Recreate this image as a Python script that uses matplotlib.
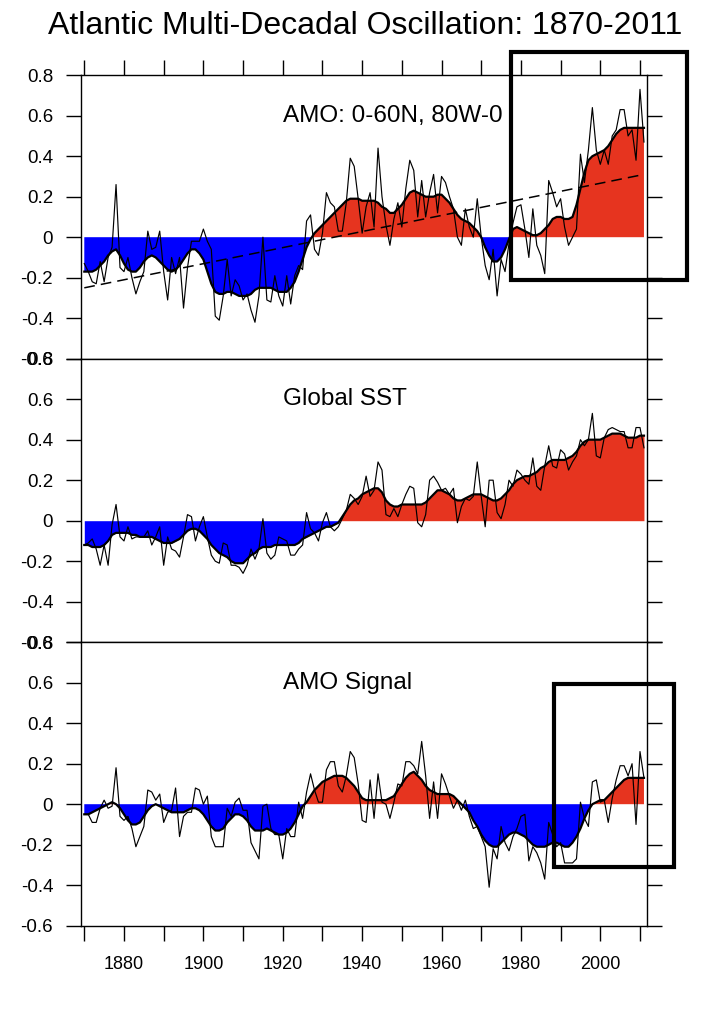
import numpy as np
import matplotlib
matplotlib.use('Agg')
import matplotlib.pyplot as plt
from matplotlib.patches import Rectangle

# ---- data (annual 1870-2011) ----
years = np.arange(1870, 2012)

amo_raw = [-0.13, -0.17, -0.22, -0.23, -0.12, -0.22, -0.10, -0.05, 0.26, -0.15,
           -0.17, -0.10, -0.20, -0.28, -0.22, -0.17, 0.03, -0.06, -0.05, 0.03,
           -0.17, -0.31, -0.10, -0.18, -0.10, -0.35, -0.15, -0.02, -0.02, -0.02,
           0.04, -0.02, -0.06, -0.39, -0.41, -0.29, -0.11, -0.29, -0.21, -0.24,
           -0.31, -0.28, -0.36, -0.42, -0.29, 0.00, -0.31, -0.32, -0.19, -0.29,
           -0.34, -0.19, -0.33, -0.19, -0.14, -0.16, 0.08, 0.11, -0.06, -0.09,
           0.02, 0.22, 0.17, 0.15, 0.03, 0.03, 0.17, 0.39, 0.35, 0.19,
           0.02, 0.15, 0.22, 0.05, 0.44, 0.20, 0.06, -0.04, 0.09, 0.17,
           0.05, 0.24, 0.38, 0.33, 0.10, 0.28, 0.10, 0.22, 0.31, 0.12,
           0.30, 0.27, 0.20, 0.14, 0.00, -0.04, 0.14, 0.05, 0.00, 0.19,
           0.00, -0.14, -0.21, -0.06, -0.29, -0.11, -0.17, -0.03, 0.07, 0.15,
           0.16, 0.04, -0.10, 0.14, -0.04, -0.09, -0.18, 0.28, 0.22, 0.15,
           0.19, 0.05, -0.04, 0.00, 0.04, 0.41, 0.27, 0.43, 0.64, 0.43,
           0.36, 0.43, 0.36, 0.50, 0.53, 0.63, 0.63, 0.50, 0.53, 0.38,
           0.73, 0.47]

amo_smooth = [-0.17, -0.17, -0.17, -0.16, -0.14, -0.12, -0.09, -0.07, -0.06, -0.09,
              -0.13, -0.16, -0.17, -0.17, -0.15, -0.12, -0.10, -0.09, -0.10, -0.12,
              -0.14, -0.16, -0.17, -0.16, -0.14, -0.11, -0.08, -0.06, -0.06, -0.08,
              -0.11, -0.17, -0.23, -0.27, -0.28, -0.28, -0.27, -0.27, -0.28, -0.29,
              -0.29, -0.29, -0.28, -0.26, -0.25, -0.25, -0.25, -0.25, -0.26, -0.27,
              -0.27, -0.27, -0.25, -0.22, -0.17, -0.11, -0.05, -0.01, 0.02, 0.04,
              0.06, 0.08, 0.10, 0.12, 0.14, 0.16, 0.18, 0.19, 0.19, 0.19,
              0.18, 0.18, 0.18, 0.18, 0.17, 0.15, 0.14, 0.12, 0.12, 0.14,
              0.16, 0.19, 0.22, 0.23, 0.22, 0.21, 0.20, 0.20, 0.20, 0.21,
              0.21, 0.19, 0.17, 0.14, 0.11, 0.09, 0.08, 0.07, 0.05, 0.03,
              0.00, -0.05, -0.09, -0.12, -0.12, -0.10, -0.06, -0.01, 0.04, 0.05,
              0.04, 0.03, 0.02, 0.01, 0.01, 0.02, 0.04, 0.06, 0.09, 0.10,
              0.10, 0.09, 0.09, 0.10, 0.16, 0.24, 0.32, 0.38, 0.40, 0.41,
              0.42, 0.43, 0.45, 0.48, 0.51, 0.53, 0.54, 0.54, 0.54, 0.54,
              0.54, 0.54]

# end points of the dashed linear trend (top panel)
trend_years = [1870, 2011]
trend_vals = [-0.25, 0.31]

sst_raw = [-0.12, -0.11, -0.09, -0.14, -0.22, -0.12, -0.22, -0.02, 0.08, -0.08,
           -0.10, -0.03, -0.09, -0.08, -0.08, -0.08, -0.05, -0.12, -0.08, -0.03,
           -0.22, -0.08, -0.14, -0.15, -0.18, -0.08, 0.03, 0.02, -0.10, -0.03,
           0.02, -0.08, -0.17, -0.20, -0.21, -0.11, -0.12, -0.22, -0.22, -0.23,
           -0.26, -0.22, -0.14, -0.19, -0.14, 0.01, -0.16, -0.19, -0.17, -0.08,
           -0.09, -0.10, -0.17, -0.17, -0.14, -0.12, 0.04, -0.04, -0.06, -0.10,
           -0.01, 0.04, -0.03, -0.05, -0.03, 0.01, 0.05, 0.13, 0.11, 0.08,
           0.12, 0.22, 0.12, 0.15, 0.29, 0.25, 0.03, 0.02, 0.06, 0.02,
           0.08, 0.13, 0.17, 0.16, -0.01, -0.03, 0.03, 0.20, 0.22, 0.19,
           0.15, 0.16, 0.13, 0.16, -0.01, 0.07, 0.11, 0.10, 0.12, 0.29,
           0.12, -0.03, 0.20, 0.20, 0.04, 0.01, 0.08, 0.20, 0.17, 0.25,
           0.23, 0.20, 0.18, 0.31, 0.17, 0.15, 0.27, 0.37, 0.27, 0.26,
           0.35, 0.33, 0.25, 0.29, 0.32, 0.40, 0.37, 0.40, 0.53, 0.32,
           0.31, 0.41, 0.45, 0.46, 0.45, 0.44, 0.44, 0.36, 0.36, 0.46,
           0.46, 0.36]

sst_smooth = [-0.12, -0.12, -0.13, -0.13, -0.13, -0.12, -0.10, -0.07, -0.06, -0.06,
              -0.06, -0.06, -0.07, -0.07, -0.08, -0.08, -0.08, -0.08, -0.09, -0.10,
              -0.11, -0.11, -0.11, -0.10, -0.09, -0.07, -0.05, -0.04, -0.04, -0.05,
              -0.07, -0.09, -0.12, -0.14, -0.16, -0.17, -0.18, -0.20, -0.21, -0.21,
              -0.21, -0.19, -0.17, -0.16, -0.14, -0.13, -0.13, -0.13, -0.12, -0.12,
              -0.12, -0.12, -0.12, -0.12, -0.11, -0.09, -0.08, -0.07, -0.06, -0.05,
              -0.04, -0.03, -0.03, -0.02, -0.01, 0.02, 0.05, 0.08, 0.10, 0.11,
              0.13, 0.14, 0.15, 0.16, 0.16, 0.14, 0.10, 0.08, 0.07, 0.07,
              0.08, 0.08, 0.08, 0.08, 0.08, 0.08, 0.09, 0.11, 0.13, 0.15,
              0.15, 0.14, 0.13, 0.11, 0.10, 0.10, 0.11, 0.12, 0.13, 0.13,
              0.13, 0.12, 0.11, 0.10, 0.10, 0.11, 0.13, 0.15, 0.18, 0.20,
              0.21, 0.22, 0.22, 0.23, 0.24, 0.26, 0.27, 0.29, 0.30, 0.30,
              0.30, 0.30, 0.31, 0.32, 0.34, 0.37, 0.39, 0.40, 0.40, 0.40,
              0.40, 0.41, 0.42, 0.43, 0.43, 0.43, 0.42, 0.41, 0.41, 0.41,
              0.42, 0.42]

sig_raw = [-0.05, -0.05, -0.09, -0.09, -0.02, 0.02, -0.02, -0.01, 0.18, -0.06,
           -0.08, -0.06, -0.12, -0.21, -0.16, -0.11, 0.07, 0.06, 0.02, 0.05,
           -0.09, -0.04, -0.03, 0.08, -0.16, -0.06, -0.04, -0.04, 0.08, 0.07,
           0.00, 0.04, -0.16, -0.21, -0.21, -0.21, -0.02, -0.06, 0.01, 0.03,
           -0.03, -0.03, -0.19, -0.23, -0.27, -0.01, 0.00, -0.12, -0.15, -0.15,
           -0.27, -0.12, -0.16, -0.16, 0.01, -0.07, 0.06, 0.15, 0.07, 0.01,
           0.01, 0.17, 0.21, 0.21, 0.09, 0.06, 0.14, 0.26, 0.23, 0.10,
           -0.08, -0.09, 0.12, -0.07, 0.15, 0.01, 0.00, -0.07, 0.01, 0.10,
           0.09, 0.21, 0.21, 0.19, 0.15, 0.31, 0.14, -0.07, 0.11, -0.07,
           0.15, 0.10, 0.04, -0.02, 0.02, -0.03, 0.02, -0.06, -0.12, -0.11,
           -0.16, -0.21, -0.41, -0.22, -0.27, -0.11, -0.19, -0.23, -0.16, -0.12,
           -0.06, -0.05, -0.28, -0.21, -0.24, -0.29, -0.37, -0.09, -0.15, -0.21,
           -0.19, -0.29, -0.29, -0.29, -0.27, 0.01, -0.07, -0.11, 0.11, 0.12,
           0.01, 0.02, -0.09, 0.03, 0.12, 0.19, 0.19, 0.14, 0.20, -0.10,
           0.26, 0.13]

sig_smooth = [-0.05, -0.05, -0.04, -0.03, -0.02, -0.01, 0.00, 0.01, 0.00, -0.02,
              -0.05, -0.08, -0.10, -0.10, -0.09, -0.06, -0.03, -0.01, 0.00, -0.01,
              -0.02, -0.03, -0.04, -0.04, -0.04, -0.04, -0.03, -0.02, -0.02, -0.03,
              -0.05, -0.08, -0.11, -0.13, -0.13, -0.12, -0.09, -0.07, -0.05, -0.05,
              -0.06, -0.08, -0.11, -0.13, -0.13, -0.13, -0.12, -0.13, -0.14, -0.15,
              -0.15, -0.14, -0.12, -0.09, -0.05, -0.01, 0.01, 0.04, 0.07, 0.09,
              0.11, 0.12, 0.13, 0.14, 0.14, 0.14, 0.13, 0.11, 0.09, 0.06,
              0.03, 0.02, 0.02, 0.02, 0.02, 0.02, 0.02, 0.03, 0.04, 0.07,
              0.10, 0.13, 0.15, 0.16, 0.14, 0.12, 0.09, 0.07, 0.06, 0.05,
              0.05, 0.05, 0.05, 0.04, 0.02, 0.00, -0.02, -0.04, -0.08, -0.11,
              -0.15, -0.18, -0.20, -0.21, -0.21, -0.19, -0.17, -0.15, -0.14, -0.14,
              -0.15, -0.16, -0.18, -0.20, -0.21, -0.21, -0.21, -0.20, -0.19, -0.19,
              -0.20, -0.21, -0.21, -0.19, -0.16, -0.12, -0.07, -0.03, 0.00, 0.01,
              0.02, 0.02, 0.04, 0.06, 0.08, 0.10, 0.12, 0.13, 0.13, 0.13,
              0.13, 0.13]

panel_titles = ['AMO: 0-60N, 80W-0', 'Global SST', 'AMO Signal']
yticks = [-0.6, -0.4, -0.2, 0, 0.2, 0.4, 0.6, 0.8]
ytick_labels = ['-0.6', '-0.4', '-0.2', '0', '0.2', '0.4', '0.6', '0.8']
xticks = list(range(1870, 2011, 10))
xtick_labels = [str(y) if y % 20 == 0 else '' for y in xticks]

title = 'Atlantic Multi-Decadal Oscillation: 1870-2011'

RED = '#E6341F'
BLUE = '#0000FF'

plt.rcParams['font.family'] = ['Liberation Sans', 'DejaVu Sans']

fig = plt.figure(figsize=(7.22, 10.24), dpi=100)

left, width = 81/722, 566.3/722
ph = 283.5/1024
bottoms = [0.096 + 2*ph, 0.096 + ph, 0.096]

series = [(amo_raw, amo_smooth), (sst_raw, sst_smooth), (sig_raw, sig_smooth)]

axes = []
for i, (raw, sm) in enumerate(series):
    ax = fig.add_axes([left, bottoms[i], width, ph])
    sm = np.array(sm)
    # red above zero, blue below
    ax.fill_between(years, sm, 0, where=sm >= 0, interpolate=True,
                    color=RED, linewidth=0)
    ax.fill_between(years, sm, 0, where=sm <= 0, interpolate=True,
                    color=BLUE, linewidth=0)
    ax.plot(years, raw, color='k', lw=0.85)
    ax.plot(years, sm, color='k', lw=1.6)
    if i == 0:
        ax.plot(trend_years, trend_vals, color='k', lw=1.1, ls=(0, (7, 4)))

    ax.set_xlim(1869.17, 2011.84)
    ax.set_ylim(-0.6, 0.8)
    ax.set_yticks(yticks)
    ax.set_yticklabels(ytick_labels)
    ax.tick_params(axis='y', which='both', direction='out', length=11,
                   width=1, left=True, right=True, labelsize=13.5, pad=9)
    ax.set_xticks(xticks)
    ax.set_xticklabels(xtick_labels)
    if i == 0:
        ax.tick_params(axis='x', direction='out', length=11, width=1,
                       top=True, bottom=False, labelbottom=False, labeltop=False)
    elif i == 2:
        ax.tick_params(axis='x', direction='out', length=11, width=1,
                       top=False, bottom=True, labelsize=13, pad=11)
    else:
        ax.tick_params(axis='x', top=False, bottom=False, labelbottom=False)
    for s in ax.spines.values():
        s.set_linewidth(1)

    ax.text(0.357, 0.857, panel_titles[i], transform=ax.transAxes,
            fontsize=17.5, ha='left', va='center')
    axes.append(ax)

fig.text(0.506, 1 - 26/1024, title, ha='center', va='center', fontsize=23)

# highlight boxes (figure pixel positions)
W, H = 722, 1024
boxes = [(511, 51.7, 687, 280), (554, 684, 674, 866.7)]
for x0, y0, x1, y1 in boxes:
    fig.add_artist(Rectangle((x0/W, 1 - y1/H), (x1 - x0)/W, (y1 - y0)/H,
                             transform=fig.transFigure, fill=False,
                             edgecolor='k', linewidth=3))

plt.savefig('out.png', dpi=100)
